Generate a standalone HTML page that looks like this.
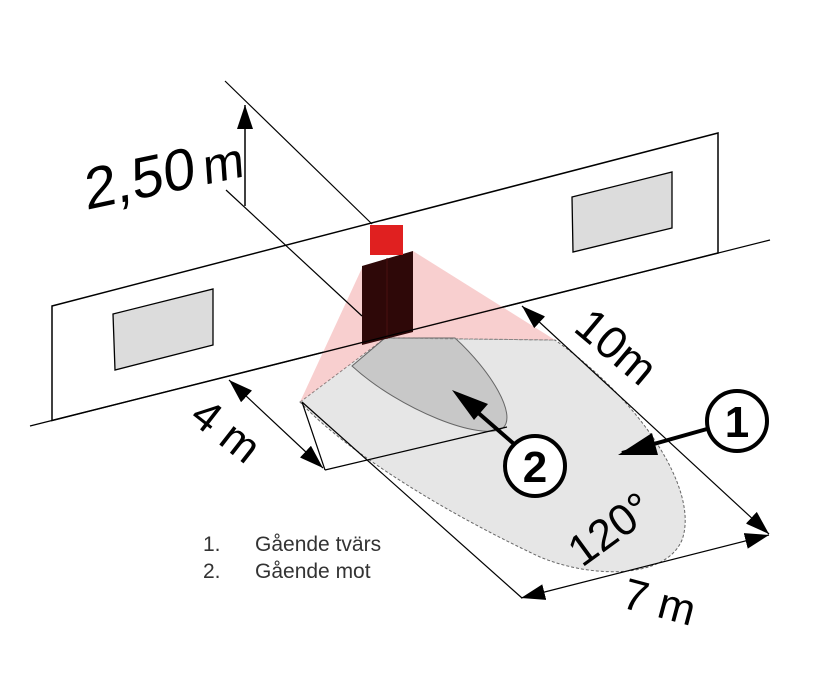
<!DOCTYPE html>
<html><head><meta charset="utf-8"><style>
html,body{margin:0;padding:0;background:#fff;}
svg{display:block;}
.t{font-family:"Liberation Sans",sans-serif;}
</style></head><body>
<svg width="822" height="694" viewBox="0 0 822 694" xmlns="http://www.w3.org/2000/svg">
<defs>
<marker id="ahs" viewBox="0 0 10 10" refX="10" refY="5" markerWidth="24" markerHeight="16" markerUnits="userSpaceOnUse" orient="auto-start-reverse" preserveAspectRatio="none"><path d="M0,0 L10,5 L0,10 Z" fill="#000"/></marker>
</defs>
<!-- wall -->
<polygon points="52,306 718,133 718,253 52,420.5" fill="#fff" stroke="#000" stroke-width="1.5"/>
<polygon points="113,314 213,289 213,345 115,370" fill="#dcdcdc" stroke="#000" stroke-width="1.3"/>
<polygon points="572,197 672,172 672,228 573,252" fill="#dcdcdc" stroke="#000" stroke-width="1.3"/>
<!-- floor -->
<path d="M300,402 L385,338 L555,340 C640,400 700,490 682,540 C665,580 590,578 540,557 C450,515 350,455 300,402 Z" fill="#e6e6e6" stroke="#666" stroke-width="1" stroke-dasharray="3,2"/>
<!-- cone -->
<polygon points="362,268 413,251 555,340 385,338 300,402" fill="#f5b5b5" opacity="0.65"/>
<path d="M352,366 L385,338 L455,338 C492,372 517,415 503,428 C482,442 400,410 352,366 Z" fill="#c8c8c8" stroke="#666" stroke-width="1"/>
<line x1="385" y1="338" x2="555" y2="340" stroke="#888" stroke-width="1" stroke-dasharray="3,2"/>
<!-- sensor -->
<polygon points="362,266 413,251 413,332 362,345" fill="#2e0808"/>
<line x1="387" y1="258" x2="387" y2="339" stroke="#4a1010" stroke-width="1"/>
<rect x="370" y="225" width="33" height="30" fill="#e02020"/>
<!-- ground line (drawn over sensor) -->
<line x1="30" y1="426" x2="770" y2="240" stroke="#000" stroke-width="1.2"/>
<!-- height dimension -->
<line x1="225" y1="81" x2="372" y2="224" stroke="#000" stroke-width="1.2"/>
<line x1="226" y1="190" x2="362" y2="316" stroke="#000" stroke-width="1.2"/>
<line x1="245" y1="206" x2="245" y2="105" stroke="#000" stroke-width="1.5" marker-end="url(#ahs)"/>
<text class="t" x="0" y="0" font-size="58" transform="translate(86,210) rotate(-12) skewX(-8)">2,50<tspan font-size="50" dx="8">m</tspan></text>
<!-- 4m dimension -->
<line x1="302" y1="402" x2="325" y2="470" stroke="#000" stroke-width="1.2"/>
<line x1="325" y1="470" x2="507" y2="427" stroke="#000" stroke-width="1.2"/>
<line x1="229" y1="380" x2="323" y2="468" stroke="#000" stroke-width="1.2" marker-start="url(#ahs)" marker-end="url(#ahs)"/>
<text class="t" font-size="44" transform="translate(188,420) rotate(38)">4 m</text>
<!-- 10m / 7m dimension -->
<line x1="302" y1="402" x2="522" y2="598" stroke="#000" stroke-width="1.2"/>
<line x1="522" y1="306" x2="769" y2="534" stroke="#000" stroke-width="1.2" marker-start="url(#ahs)" marker-end="url(#ahs)"/>
<line x1="521" y1="598" x2="769" y2="535" stroke="#000" stroke-width="1.2" marker-start="url(#ahs)" marker-end="url(#ahs)"/>
<text class="t" font-size="46" transform="translate(572,330) rotate(40)">10m</text>
<text class="t" font-size="44" transform="translate(620,607) rotate(15)">7 m</text>
<text class="t" font-size="44" transform="translate(582,568) rotate(-36)">120°</text>
<!-- circles -->
<circle cx="737" cy="421" r="30" fill="#fff" stroke="#000" stroke-width="4"/>
<text class="t" x="737" y="437" font-size="44" font-weight="bold" text-anchor="middle">1</text>
<line x1="707" y1="429" x2="622" y2="453" stroke="#000" stroke-width="4"/>
<polygon points="618,455 652,433 658,455" fill="#000"/>
<circle cx="535" cy="466" r="30" fill="#fff" stroke="#000" stroke-width="4"/>
<text class="t" x="535" y="482" font-size="44" font-weight="bold" text-anchor="middle">2</text>
<line x1="514" y1="444" x2="460" y2="397" stroke="#000" stroke-width="4"/>
<polygon points="452,390 488,404 474,420" fill="#000"/>
<!-- legend -->
<text class="t" x="203" y="551" font-size="21" fill="#333">1.</text>
<text class="t" x="255" y="551" font-size="21" fill="#333">Gående tvärs</text>
<text class="t" x="203" y="578" font-size="21" fill="#333">2.</text>
<text class="t" x="255" y="578" font-size="21" fill="#333">Gående mot</text>
</svg>
</body></html>
